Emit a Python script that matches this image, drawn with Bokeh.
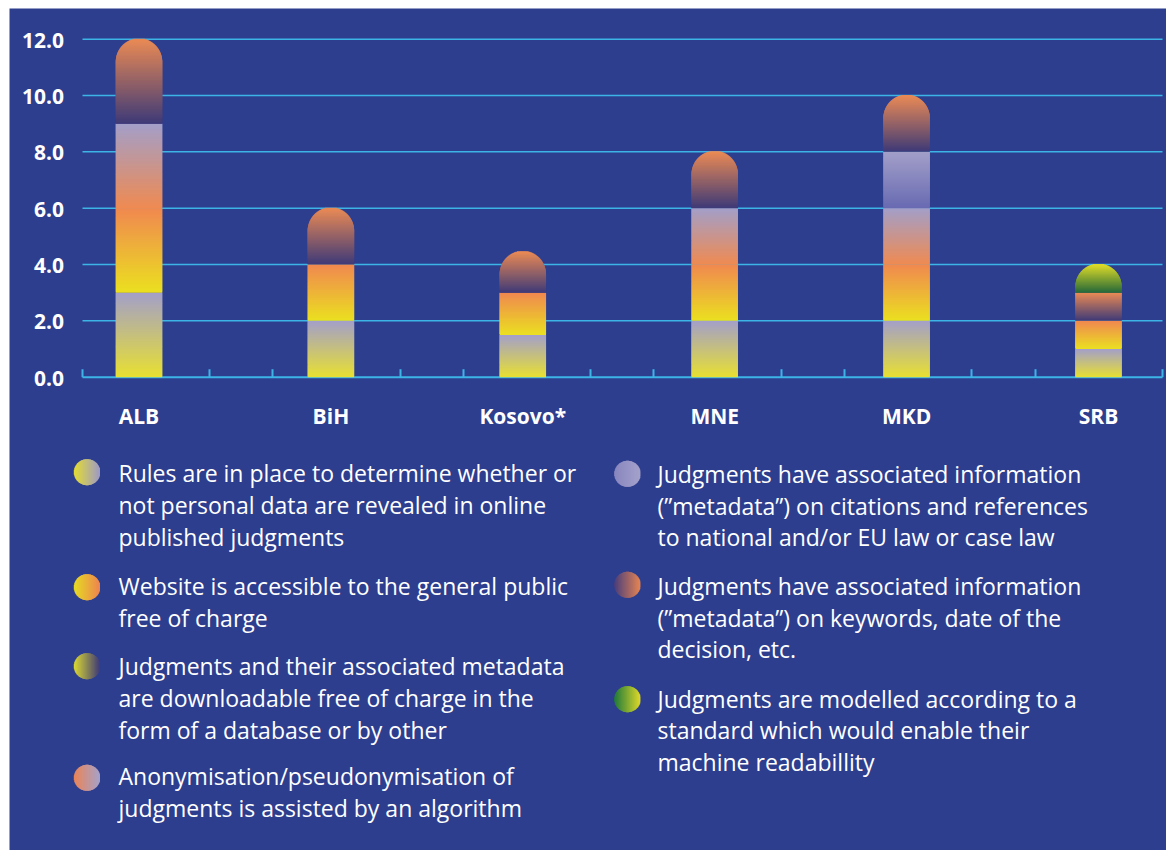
import math
from bokeh.plotting import figure
from bokeh.models import Range1d
from bokeh.core.properties import value
from bokeh.embed import file_html
from bokeh.resources import INLINE

# ---------------- data ----------------
categories = ["ALB", "BiH", "Kosovo*", "MNE", "MKD", "SRB"]
rules         = [3, 2, 1.5, 2, 2, 1]
website       = [3, 2, 1.5, 2, 2, 1]
downloadable  = [0, 0, 0, 0, 0, 0]
anonymisation = [3, 0, 0, 2, 2, 0]
citations     = [0, 0, 0, 0, 2, 0]
keywords      = [3, 2, 1.45, 2, 2, 1]
machine       = [0, 0, 0, 0, 0, 1]

y_ticks = [0, 2, 4, 6, 8, 10, 12]
y_tick_labels = ["0.0", "2.0", "4.0", "6.0", "8.0", "10.0", "12.0"]

legend_left = [
    ["Rules are in place to determine whether or", "not personal data are revealed in online", "published judgments"],
    ["Website is accessible to the general public", "free of charge"],
    ["Judgments and their associated metadata", "are downloadable free of charge in the", "form of a database or by other"],
    ["Anonymisation/pseudonymisation of", "judgments is assisted by an algorithm"],
]
legend_right = [
    ["Judgments have associated information", "(\u201dmetadata\u201d) on citations and references", "to national and/or EU law or case law"],
    ["Judgments have associated information", "(\u201dmetadata\u201d) on keywords, date of the", "decision, etc."],
    ["Judgments are modelled according to a", "standard which would enable their", "machine readabillity"],
]

# ---------------- style ----------------
BG = "#2d3e8f"
GRID = "#3cb4e6"
FONT = "Open Sans"

series = [  # bottom -> top gradient colours
    (rules,         ("#e8e032", "#a39fc9")),
    (website,       ("#ebe020", "#f08850")),
    (downloadable,  ("#e0dc30", "#3e3a78")),
    (anonymisation, ("#ef8a52", "#a39fc9")),
    (citations,     ("#686ab2", "#a39fc9")),
    (keywords,      ("#3e3a78", "#ea8a55")),
    (machine,       ("#24683a", "#e0dc28")),
]
dot_left = [("#e8e030", "#a09cc8"), ("#eadf22", "#f08650"), ("#e0dc30", "#3e3a78"), ("#ee8656", "#a8a4cc")]
dot_right = [("#8a88c0", "#a8a4cc"), ("#4a3e7c", "#ea8652"), ("#1e7a3a", "#e2dc28")]


def hex2rgb(h):
    h = h.lstrip("#")
    return tuple(int(h[i:i + 2], 16) for i in (0, 2, 4))


def lerp(c0, c1, t):
    a, b = hex2rgb(c0), hex2rgb(c1)
    return "#%02x%02x%02x" % tuple(int(round(a[i] + (b[i] - a[i]) * t)) for i in range(3))


# ---------------- geometry (page pixels) ----------------
W, H = 1157, 842            # canvas placed at page (9, 8)
PG_X0, PG_Y0 = 9, 8
PX_X = 191.9                # px per category step
PX_Y = 28.17                # px per value unit
BAR0_X = 138.5              # page x of first bar centre
ZERO_Y = 376.7              # page y of value 0
TXT_SHIFT = -8.5            # baseline correction for alphabetic text

x_lo = (PG_X0 - BAR0_X) / PX_X
x_hi = (PG_X0 + W - BAR0_X) / PX_X
y_lo = -(PG_Y0 + H - ZERO_Y) / PX_Y
y_hi = (ZERO_Y - PG_Y0) / PX_Y

p = figure(width=W, height=H, x_range=Range1d(x_lo, x_hi), y_range=Range1d(y_lo, y_hi),
           output_backend="svg", toolbar_location=None, x_axis_type=None, y_axis_type=None,
           min_border=0, background_fill_color=BG, border_fill_color=BG, outline_line_color=None,
           margin=(PG_Y0, 0, 0, PG_X0))
p.grid.visible = False
p.extra_x_ranges = {"px": Range1d(PG_X0, PG_X0 + W)}
p.extra_y_ranges = {"px": Range1d(PG_Y0 + H, PG_Y0)}

# grid lines, axis line and tick marks
GX0, GX1 = 82, 1162
p.segment(x0=GX0, x1=GX1, y0=y_ticks[1:], y1=y_ticks[1:], x_range_name="px",
          line_color=GRID, line_width=1.5)
p.segment(x0=[GX0], x1=[GX1], y0=[0], y1=[0], x_range_name="px", line_color=GRID, line_width=2)
tick_px = [82, 209, 272, 400, 463, 590, 653, 781, 844, 971, 1035, 1162]
p.segment(x0=tick_px, x1=tick_px, y0=ZERO_Y, y1=ZERO_Y - 8, x_range_name="px", y_range_name="px",
          line_color=GRID, line_width=2)

# y tick labels
p.text(x=63.5, y=y_ticks, text=y_tick_labels, x_range_name="px",
       text_font=value(FONT), text_font_style="bold", text_font_size=value("21px"),
       text_color="white", text_align="right", text_baseline="middle", y_offset=1)
# category labels
p.text(x=list(range(len(categories))), y=424 + TXT_SHIFT, text=categories, y_range_name="px",
       text_font=value(FONT), text_font_style="bold", text_font_size=value("21px"),
       text_color="white", text_align="center", text_baseline="alphabetic")

# ---------------- gradient bars ----------------
BAR_W_PX = 46.5
R_PX = BAR_W_PX / 2
L, R, B, T, C = [], [], [], [], []
for i in range(len(categories)):
    segs = [(vals[i], cols) for vals, cols in series if vals[i] > 0]
    base = 0.0
    for j, (v, (c0, c1)) in enumerate(segs):
        top = base + v
        cap = (j == len(segs) - 1)
        step_px = 0.5 if cap else 1.0
        n = max(1, int(round(v * PX_Y / step_px)))
        cy = top - R_PX / PX_Y
        for k in range(n):
            y0 = base + v * k / n
            y1 = base + v * (k + 1) / n
            half = BAR_W_PX / 2
            if cap:
                ym = (y0 + y1) / 2
                if ym > cy:
                    dy = (ym - cy) * PX_Y
                    half = math.sqrt(max(R_PX ** 2 - dy ** 2, 0.0))
            L.append(i - half / PX_X)
            R.append(i + half / PX_X)
            B.append(y0)
            T.append(y1 + (1.0 / PX_Y if k < n - 1 else 0))
            C.append(lerp(c0, c1, (k + 0.5) / n))
        base = top

p.quad(left=L, right=R, bottom=B, top=T, fill_color=C, line_color=None)

# ---------------- legend (page-pixel coordinates) ----------------
left_dot_y = [471.7, 586.7, 665.7, 777.3]
right_dot_y = [473.3, 584.3, 698.7]
left_base = [[481, 513, 544.5], [594, 625.5], [673.5, 705.5, 737.5], [784, 816]]
right_base = [[481.5, 513.5, 545], [594, 625.5, 657], [707, 738, 770]]
DOT_R = 13.0

dl, dr, db, dt, dc = [], [], [], [], []


def add_dot(cx, cy, c0, c1):
    n = int(2 * DOT_R / 0.5)
    for k in range(n):
        x0 = cx - DOT_R + k * 0.5
        xm = x0 + 0.25
        h = math.sqrt(max(DOT_R ** 2 - (xm - cx) ** 2, 0.0))
        dl.append(x0)
        dr.append(x0 + 0.5 + (0.6 if k < n - 1 else 0))
        db.append(cy + h)
        dt.append(cy - h)
        dc.append(lerp(c0, c1, (k + 0.5) / n))


tx, ty, tt = [], [], []
for item, cy, bases, cols in zip(legend_left, left_dot_y, left_base, dot_left):
    add_dot(86.3, cy, *cols)
    for line, by in zip(item, bases):
        tx.append(118); ty.append(by + TXT_SHIFT); tt.append(line)
for item, cy, bases, cols in zip(legend_right, right_dot_y, right_base, dot_right):
    add_dot(626.7, cy, *cols)
    for line, by in zip(item, bases):
        tx.append(657); ty.append(by + TXT_SHIFT); tt.append(line)

p.quad(left=dl, right=dr, bottom=db, top=dt, fill_color=dc, line_color=None,
       x_range_name="px", y_range_name="px")
p.text(x=tx, y=ty, text=tt, x_range_name="px", y_range_name="px",
       text_font=value(FONT), text_font_size=value("23px"),
       text_color="white", text_baseline="alphabetic", text_align="left")

open("out.html", "w").write(file_html(p, INLINE))
